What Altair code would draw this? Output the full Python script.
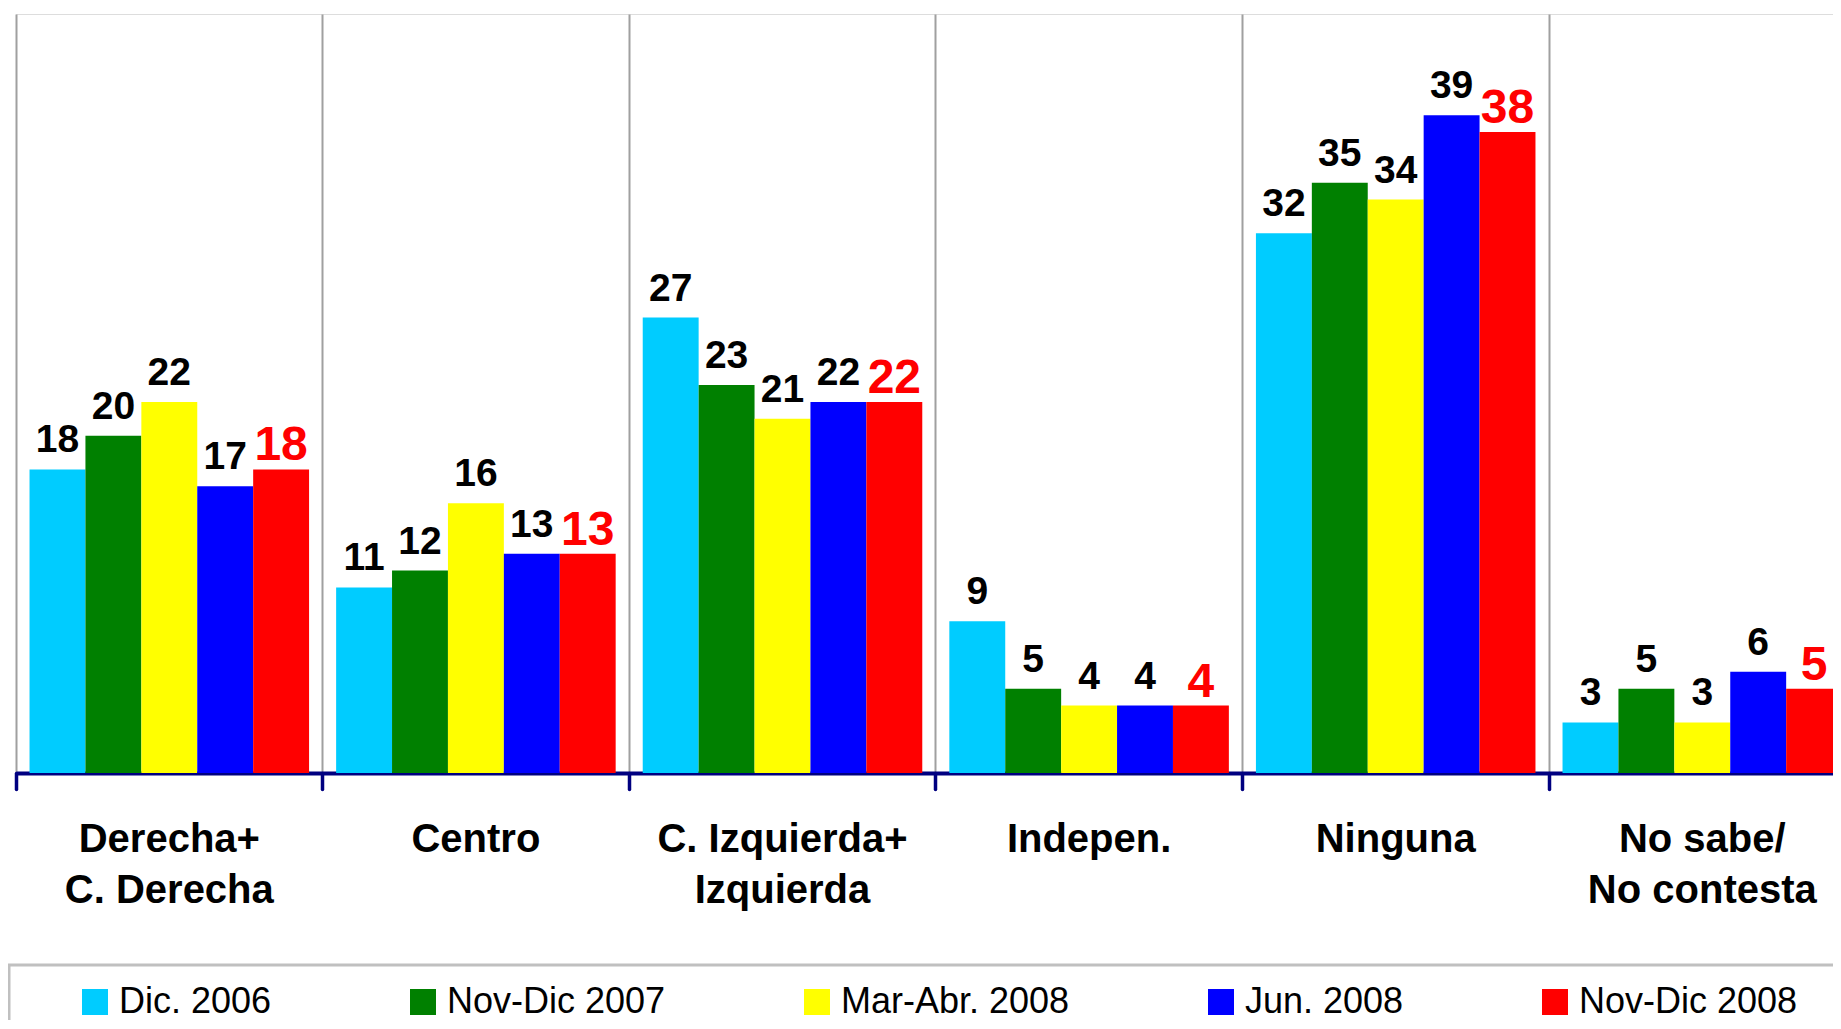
import altair as alt
import pandas as pd

categories = ["Derecha+|C. Derecha", "Centro", "C. Izquierda+|Izquierda",
              "Indepen.", "Ninguna", "No sabe/|No contesta"]
series = ["Dic. 2006", "Nov-Dic 2007", "Mar-Abr. 2008", "Jun. 2008", "Nov-Dic 2008"]
colors = ["#00CCFF", "#008000", "#FFFF00", "#0000FF", "#FF0000"]

dic_2006 = [18, 11, 27, 9, 32, 3]
nov_dic_2007 = [20, 12, 23, 5, 35, 5]
mar_abr_2008 = [22, 16, 21, 4, 34, 3]
jun_2008 = [17, 13, 22, 4, 39, 6]
nov_dic_2008 = [18, 13, 22, 4, 38, 5]

rows = []
for s, vals in zip(series, [dic_2006, nov_dic_2007, mar_abr_2008, jun_2008, nov_dic_2008]):
    for c, v in zip(categories, vals):
        rows.append({"categoria": c, "periodo": s, "valor": v})
df = pd.DataFrame(rows)

FONT = "Liberation Sans"
BAND = 306.6

x_enc = alt.X(
    "categoria:N", sort=categories,
    scale=alt.Scale(paddingInner=0, paddingOuter=0, range=[0, BAND * 6]),
    axis=alt.Axis(
        title=None, labelExpr="split(datum.label, '|')",
        bandPosition=0,
        grid=True, gridColor="#a0a0a0", gridWidth=2,
        domainColor="#000080", domainWidth=4,
        tickColor="#000080", tickWidth=3.5, tickSize=16, tickCap="round",
        labelPadding=62, labelBaseline="alphabetic", labelFont=FONT,
        labelFontSize=40, labelFontWeight="bold", labelColor="black",
        labelLineHeight=51, labelAngle=0, labelOverlap=False,
        labelFlush=False, labelLimit=600,
    ),
)
xo_enc = alt.XOffset("periodo:N", sort=series,
                     scale=alt.Scale(paddingInner=0, paddingOuter=0.242))
y_enc = alt.Y("valor:Q", scale=alt.Scale(domain=[0, 45], nice=False), axis=None)

base = alt.Chart(df)

bars = base.mark_bar(cornerRadius=0).encode(
    x=x_enc, xOffset=xo_enc, y=y_enc,
    color=alt.Color(
        "periodo:N", sort=series,
        scale=alt.Scale(domain=series, range=colors),
        legend=alt.Legend(
            orient="none", legendX=61, legendY=970, direction="horizontal",
            columns=5, title=None, symbolType="square", symbolSize=676,
            symbolStrokeWidth=0, symbolOpacity=1, labelFont=FONT,
            labelFontSize=36, labelColor="black", labelOffset=6,
            columnPadding=133, padding=0, labelLimit=600,
        ),
    ),
)

labels_black = base.transform_filter(alt.datum.periodo != "Nov-Dic 2008").mark_text(
    dy=-17, baseline="alphabetic", fontSize=39, fontWeight="bold", font=FONT, color="black"
).encode(x=x_enc, xOffset=xo_enc, y=y_enc, text="valor:Q")

labels_red = base.transform_filter(alt.datum.periodo == "Nov-Dic 2008").mark_text(
    dy=-9, baseline="alphabetic", fontSize=48, fontWeight="bold", font=FONT, color="#FF0000"
).encode(x=x_enc, xOffset=xo_enc, y=y_enc, text="valor:Q")

frame = alt.Chart(pd.DataFrame({"a": [0]})).mark_rect(
    fillOpacity=0, stroke="#c0c0c0", strokeWidth=3
).encode(x=alt.value(-7), x2=alt.value(2000), y=alt.value(951), y2=alt.value(1300))

chart = alt.layer(bars, labels_black, labels_red, frame).properties(
    width=1817, height=759,
    padding={"left": 8, "top": 6, "right": 0, "bottom": 247},
    autosize=alt.AutoSizeParams(type="none"),
).configure_view(stroke="#a0a0a0", strokeWidth=2).configure(background="white")

chart.save("out.html", embed_options={"renderer": "svg", "actions": False})
